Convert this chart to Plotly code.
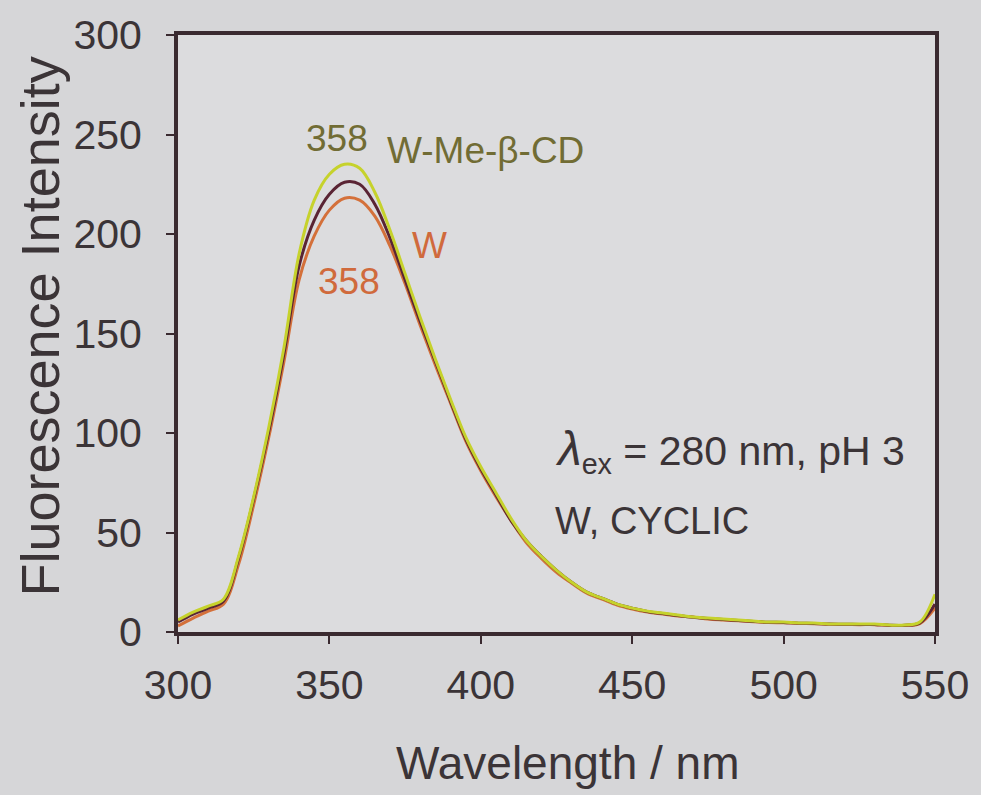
import plotly.graph_objects as go

wavelength = [300, 305, 310, 315, 320, 325, 330, 335, 340, 345,
              350, 355, 360, 365, 370, 375, 380, 385, 390, 395,
              400, 405, 410, 415, 420, 425, 430, 435, 440, 445,
              450, 455, 460, 465, 470, 475, 480, 485, 490, 495,
              500, 505, 510, 515, 520, 525, 530, 535, 540, 545, 550]

w_me_b_cd = [6, 10, 13, 16.5, 38, 68, 103, 143, 190, 217,
             230, 235, 233, 221, 202, 180, 158, 137, 117, 98,
             83, 70, 57, 46, 38, 31, 25, 20, 17, 14,
             12, 10.5, 9.5, 8.5, 7.5, 7, 6.5, 6, 5.5, 5,
             5, 4.5, 4.5, 4, 4, 4, 4, 3.5, 3.5, 5, 19]

w_middle = [5, 9, 12, 15.5, 37, 67, 101, 140, 184, 207,
            220, 226, 225, 215, 198, 177, 156, 136, 116, 97,
            82, 69, 56, 46, 38, 31, 25, 20, 17, 14,
            12, 10.3, 9.3, 8.3, 7.4, 6.8, 6.3, 5.8, 5.3, 4.9,
            4.8, 4.4, 4.3, 4, 3.9, 3.8, 3.8, 3.4, 3.4, 4.6, 14]

w_only = [3, 7, 10.5, 14, 34, 64, 98, 136, 177, 199,
          212, 218, 217, 209, 194, 175, 154, 134, 115, 96,
          81, 68, 56, 45, 37, 30, 24.5, 19.5, 16.5, 13.5,
          11.5, 10, 9, 8, 7.5, 6.5, 6, 5.6, 5.2, 4.8,
          4.6, 4.3, 4.2, 3.9, 3.8, 3.7, 3.7, 3.3, 3.3, 4.2, 12]

x_ticks = [300, 350, 400, 450, 500, 550]
y_ticks = [0, 50, 100, 150, 200, 250, 300]

FONT = "Liberation Sans, Arial, sans-serif"
TXT = "#3b3437"
AX = "#3a2a30"
OLIVE = "#716c34"
ORANGE = "#d06a3c"

fig = go.Figure()
fig.add_trace(go.Scatter(x=wavelength, y=w_only, mode="lines", name="W",
                         line=dict(color="#d4703a", width=3, shape="spline")))
fig.add_trace(go.Scatter(x=wavelength, y=w_middle, mode="lines", name="W (2)",
                         line=dict(color="#5a2434", width=3, shape="spline")))
fig.add_trace(go.Scatter(x=wavelength, y=w_me_b_cd, mode="lines", name="W-Me-β-CD",
                         line=dict(color="#c6d22c", width=3, shape="spline")))

ann = []
ann.append(dict(x=352.6, y=248, text="358", xref="x", yref="y", showarrow=False,
                xanchor="center", yanchor="middle", font=dict(size=37, color=OLIVE, family=FONT)))
ann.append(dict(x=368.4, y=242, text="W-Me-β-CD", xref="x", yref="y", showarrow=False,
                xanchor="left", yanchor="middle", font=dict(size=37, color=OLIVE, family=FONT)))
ann.append(dict(x=383, y=194, text="W", xref="x", yref="y", showarrow=False,
                xanchor="center", yanchor="middle", font=dict(size=37, color=ORANGE, family=FONT)))
ann.append(dict(x=356.6, y=176, text="358", xref="x", yref="y", showarrow=False,
                xanchor="center", yanchor="middle", font=dict(size=37, color=ORANGE, family=FONT)))
ann.append(dict(x=424, y=91,
                text="<span style='font-size:48px'><i>λ</i></span><sub>ex</sub> = 280 nm, pH 3",
                xref="x", yref="y", showarrow=False, xanchor="left", yanchor="middle",
                font=dict(size=41, color=TXT, family=FONT)))
ann.append(dict(x=424, y=56, text="W, CYCLIC", xref="x", yref="y", showarrow=False,
                xanchor="left", yanchor="middle", font=dict(size=38, color=TXT, family=FONT)))
ann.append(dict(x=0.515, y=-0.22, text="Wavelength / nm", xref="paper", yref="paper",
                showarrow=False, xanchor="center", yanchor="middle",
                font=dict(size=46, color=TXT, family=FONT)))
ann.append(dict(x=-0.182, y=0.512, text="Fluorescence Intensity", xref="paper", yref="paper",
                showarrow=False, xanchor="center", yanchor="middle", textangle=-90,
                font=dict(size=54, color=TXT, family=FONT)))

fig.update_layout(
    width=981, height=795,
    margin=dict(l=178, r=45, t=28, b=163),
    paper_bgcolor="#d6d6d8",
    plot_bgcolor="#dcdcde",
    showlegend=False,
    annotations=ann,
    font=dict(family=FONT, color=TXT),
)
fig.update_xaxes(range=[300, 550], tickvals=x_ticks, ticktext=[str(v) for v in x_ticks],
                 showgrid=False, zeroline=False, showline=True, linecolor=AX, linewidth=4,
                 mirror=True, ticks="outside", ticklen=8, tickwidth=2, tickcolor=AX,
                 ticklabelstandoff=6, tickfont=dict(size=41, color=TXT, family=FONT))
fig.update_yaxes(range=[0, 300], tickvals=y_ticks, ticktext=[str(v) for v in y_ticks],
                 showgrid=False, zeroline=False, showline=True, linecolor=AX, linewidth=4,
                 mirror=True, ticks="outside", ticklen=8, tickwidth=2, tickcolor=AX,
                 ticklabelstandoff=16,
                 tickfont=dict(size=41, color=TXT, family=FONT))

fig.write_html("out.html")
